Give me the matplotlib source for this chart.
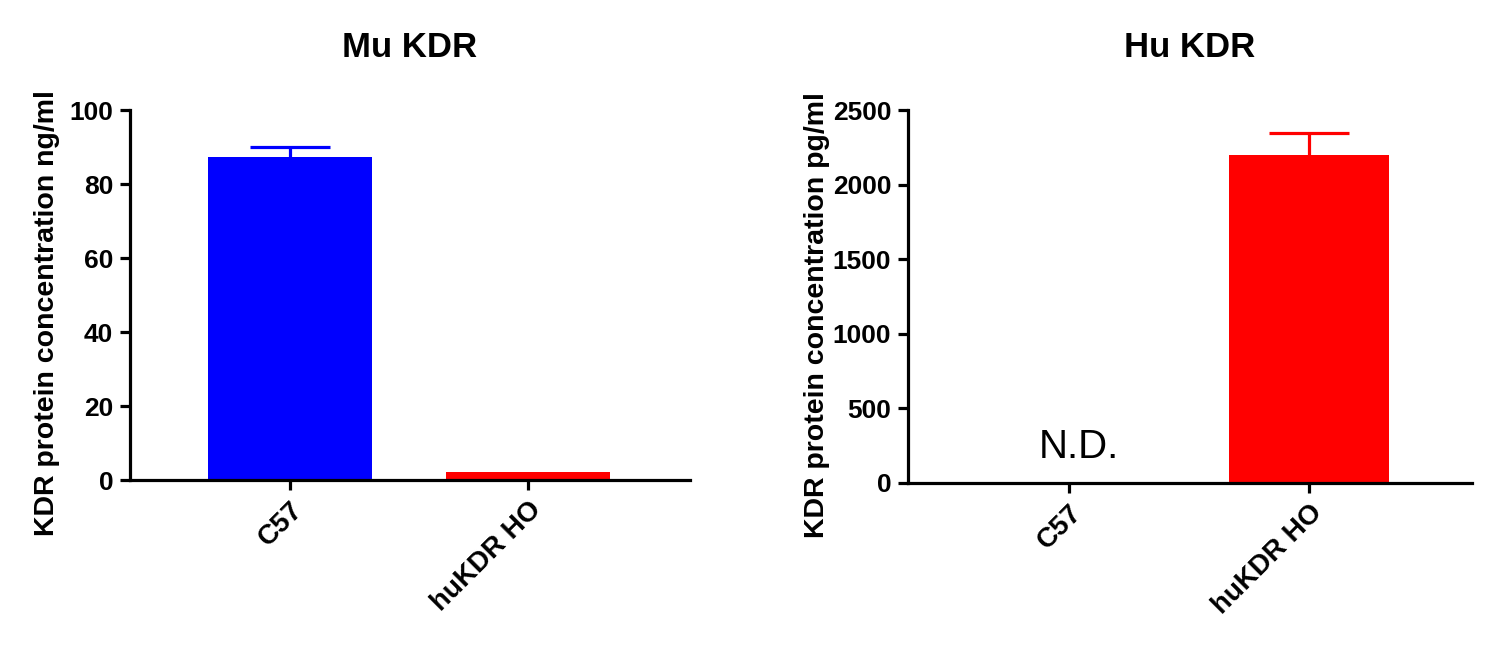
import matplotlib
matplotlib.use("Agg")
import matplotlib.pyplot as plt

plt.rcParams['font.family'] = ['Liberation Sans', 'DejaVu Sans']

categories = ["C57", "huKDR HO"]
mu_values = [87.3, 2.2]
mu_err = [2.7, 0.0]
hu_values = [0.0, 2198]
hu_err = [0.0, 148]
colors = ["#0000FF", "#FF0000"]
mu_ticks = [0, 20, 40, 60, 80, 100]
hu_ticks = [0, 500, 1000, 1500, 2000, 2500]

fig = plt.figure(figsize=(14.9, 6.59), dpi=100)
ax1 = fig.add_axes([130/1490, (659-480)/659, 560/1490, 370/659])
ax2 = fig.add_axes([908/1490, (659-483)/659, 564/1490, 373/659])

def style(ax, ticks, ylabel, title, lx):
    for s in ["top", "right"]:
        ax.spines[s].set_visible(False)
    for s in ["left", "bottom"]:
        ax.spines[s].set_linewidth(2.3)
    ax.set_xlim(-0.672, 1.68)
    ax.set_ylim(ticks[0], ticks[-1])
    ax.set_yticks(ticks)
    ax.set_xticks(range(len(categories)))
    ax.set_xticklabels(categories, rotation=45, ha='right', rotation_mode='anchor',
                       fontsize=20, fontweight='bold')
    ax.tick_params(axis='both', direction='out', length=7, width=2.3, pad=5)
    ax.tick_params(axis='y', labelsize=19)
    for lab in ax.get_yticklabels():
        lab.set_fontweight('bold')
    ax.set_ylabel(ylabel, fontsize=20.5, fontweight='bold')
    ax.yaxis.set_label_coords(lx, 0.45)
    ax.set_title(title, fontsize=25, fontweight='bold', pad=38)

def upper_err(ax, xi, val, err, color, halfw):
    ax.vlines(xi, val, val + err, colors=color, linewidth=2.3, zorder=1)
    ax.hlines(val + err, xi - halfw, xi + halfw, colors=color, linewidth=2.3, zorder=1)

x = list(range(len(categories)))
# Mu KDR
ax1.bar(x, mu_values, width=0.69, color=colors, zorder=2)
upper_err(ax1, x[0], mu_values[0], mu_err[0], colors[0], 0.166)
style(ax1, mu_ticks, "KDR protein concentration ng/ml", "Mu KDR", -0.125)

# Hu KDR
ax2.bar(x, hu_values, width=0.665, color=colors, zorder=2)
upper_err(ax2, x[1], hu_values[1], hu_err[1], colors[1], 0.166)
style(ax2, hu_ticks, "KDR protein concentration pg/ml", "Hu KDR", -0.138)
ax2.text(0.04, 240, "N.D.", ha='center', va='center', fontsize=29)

fig.savefig("out.png", dpi=100)
